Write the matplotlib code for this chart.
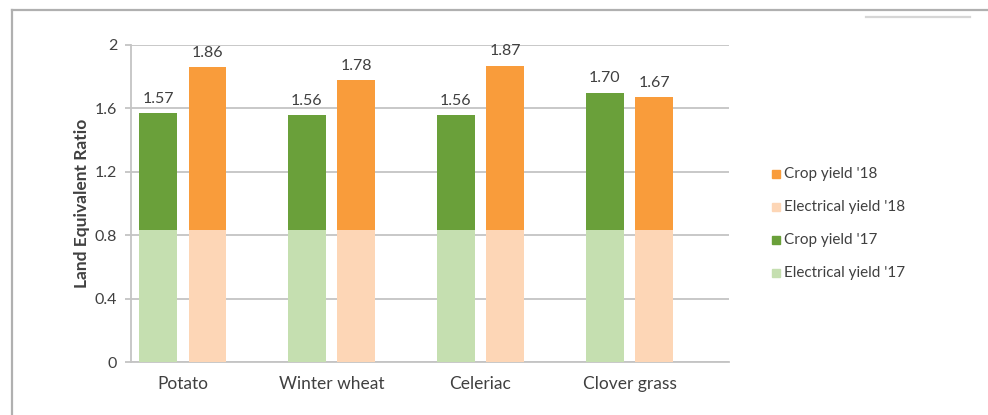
import matplotlib.pyplot as plt
import numpy as np
from matplotlib.lines import Line2D

plt.rcParams["font.family"] = ["Lato", "DejaVu Sans"]

# data
crops = ["Potato", "Winter wheat", "Celeriac", "Clover grass"]
total_17 = [1.57, 1.56, 1.56, 1.70]
total_18 = [1.86, 1.78, 1.87, 1.67]
elec_17 = [0.83, 0.83, 0.83, 0.83]
elec_18 = [0.83, 0.83, 0.83, 0.83]
crop_17 = [t - e for t, e in zip(total_17, elec_17)]
crop_18 = [t - e for t, e in zip(total_18, elec_18)]

C_CROP17 = "#6aa03a"
C_ELEC17 = "#c5dfb0"
C_CROP18 = "#f99c3b"
C_ELEC18 = "#fdd6b6"
TXT = "#404040"
GRID = "#c4c4c4"

W, H = 988, 415
fig = plt.figure(figsize=(W / 100, H / 100), dpi=100)
fig.patch.set_facecolor("white")

# outer frame (chart border, cut by the image edges)
fig.add_artist(Line2D([12 / W, 12 / W], [0, 1 - 10 / H], color="#b0b0b0", lw=1.6))
fig.add_artist(Line2D([12 / W, 1], [1 - 10 / H, 1 - 10 / H], color="#b0b0b0", lw=1.6))
fig.add_artist(Line2D([866 / W, 970 / W], [1 - 17 / H, 1 - 17 / H], color="#d6d6d6", lw=1.6))

ax = fig.add_axes([131 / W, 1 - 362 / H, (729 - 131) / W, (362 - 45) / H])

x = np.arange(len(crops))
off = 0.165
bw = 0.25
xg = x - off
xo = x + off

ax.bar(xg, elec_17, bw, color=C_ELEC17, zorder=3)
ax.bar(xg, crop_17, bw, bottom=elec_17, color=C_CROP17, zorder=3)
ax.bar(xo, elec_18, bw, color=C_ELEC18, zorder=3)
ax.bar(xo, crop_18, bw, bottom=elec_18, color=C_CROP18, zorder=3)

for xi, v in zip(xg, total_17):
    ax.text(xi, v + 0.045, f"{v:.2f}", ha="center", va="bottom", fontsize=11.5, color=TXT)
for xi, v in zip(xo, total_18):
    ax.text(xi, v + 0.045, f"{v:.2f}", ha="center", va="bottom", fontsize=11.5, color=TXT)

ax.set_xlim(-0.346, 3.668)
ax.set_ylim(0, 2)
ax.set_yticks([0, 0.4, 0.8, 1.2, 1.6, 2])
ax.set_yticklabels(["0", "0.4", "0.8", "1.2", "1.6", "2"])
ax.set_xticks(x)
ax.set_xticklabels(crops)
ax.yaxis.grid(True, color=GRID, lw=1.3, zorder=0)
ax.set_axisbelow(True)
for s in ["top", "right"]:
    ax.spines[s].set_visible(False)
ax.spines["left"].set_color(GRID)
ax.spines["left"].set_linewidth(1.3)
ax.spines["bottom"].set_color(GRID)
ax.spines["bottom"].set_linewidth(1.3)
ax.tick_params(axis="y", length=4, width=1.3, color=GRID, labelsize=11.5, labelcolor=TXT, pad=6)
ax.tick_params(axis="x", length=0, labelsize=12.5, labelcolor=TXT, pad=10)
ax.set_ylabel("Land Equivalent Ratio", fontsize=12.5, fontweight="bold", color=TXT)
ax.yaxis.set_label_coords(-0.068, 0.5)

# legend drawn manually to match spacing
leg_items = [("Crop yield '18", C_CROP18, 174), ("Electrical yield '18", C_ELEC18, 207),
             ("Crop yield '17", C_CROP17, 240), ("Electrical yield '17", C_ELEC17, 273)]
for label, col, ypx in leg_items:
    fig.patches.append(plt.Rectangle((772 / W, 1 - (ypx + 4) / H), 8 / W, 8 / H,
                                     transform=fig.transFigure, color=col))
    fig.text(784 / W, 1 - ypx / H, label, fontsize=11, color=TXT, va="center", ha="left")

fig.savefig("out.png", dpi=100)
